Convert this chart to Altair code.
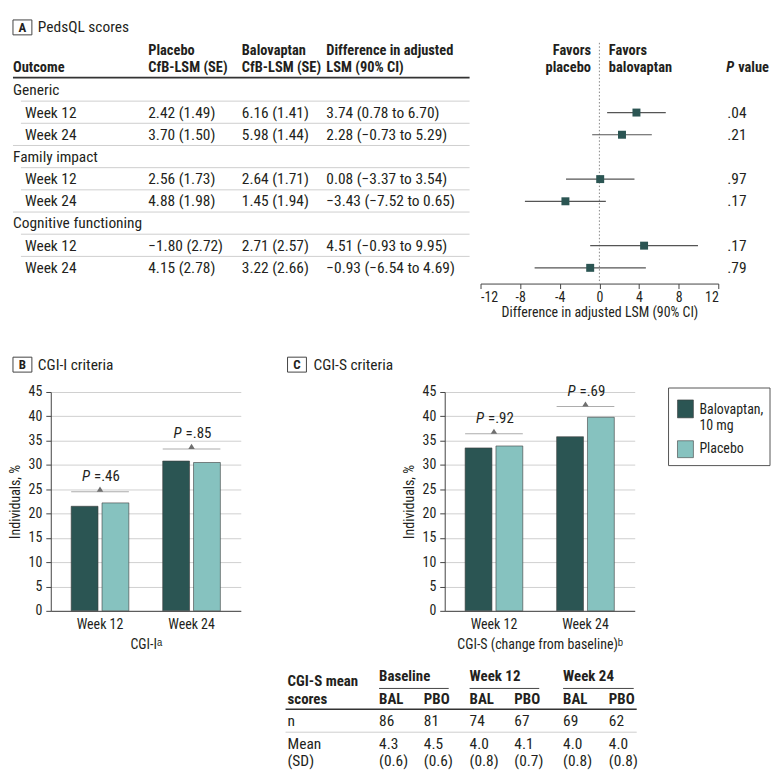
import altair as alt
import pandas as pd

# ---------------- data ----------------
outcomes = ["Generic", "Family impact", "Cognitive functioning"]
weeks = ["Week 12", "Week 24"]
placebo_lsm = [2.42, 3.70, 2.56, 4.88, -1.80, 4.15]
placebo_se = [1.49, 1.50, 1.73, 1.98, 2.72, 2.78]
balovaptan_lsm = [6.16, 5.98, 2.64, 1.45, 2.71, 3.22]
balovaptan_se = [1.41, 1.44, 1.71, 1.94, 2.57, 2.66]
diff_lsm = [3.74, 2.28, 0.08, -3.43, 4.51, -0.93]
diff_lo = [0.78, -0.73, -3.37, -7.52, -0.93, -6.54]
diff_hi = [6.70, 5.29, 3.54, 0.65, 9.95, 4.69]
pedsql_p = [".04", ".21", ".97", ".17", ".17", ".79"]
forest_ticks = [-12, -8, -4, 0, 4, 8, 12]

arms = ["Balovaptan, 10 mg", "Placebo"]
cgi_weeks = ["Week 12", "Week 24"]
cgii_bal = [21.5, 30.8]
cgii_pbo = [22.2, 30.5]
cgii_p = [".46", ".85"]
cgii_bracket = [24.5, 33.3]
cgis_bal = [33.5, 35.8]
cgis_pbo = [33.9, 39.8]
cgis_p = [".92", ".69"]
cgis_bracket = [36.4, 42.0]
y_ticks = [0, 5, 10, 15, 20, 25, 30, 35, 40, 45]

table_groups = ["Baseline", "Week 12", "Week 24"]
table_arms = ["BAL", "PBO"]
cgis_n = [86, 81, 74, 67, 69, 62]
cgis_mean = [4.3, 4.5, 4.0, 4.1, 4.0, 4.0]
cgis_sd = [0.6, 0.6, 0.8, 0.7, 0.8, 0.8]

# ---------------- style ----------------
FONT = "Liberation Sans Narrow, Arial Narrow, Roboto Condensed, Roboto, sans-serif"
INK = "#231f20"
DARK = "#2b5553"
LIGHT = "#86c2bf"
RULE_LIGHT = "#cfcfcf"
MINUS = "\u2212"
BODY = 15.5
HEAD = 14.5


def fmt(v, d=2):
    return f"{v:.{d}f}".replace("-", MINUS)


class Frame:
    """Pixel-like linear scales for annotation/table layers of one panel."""

    def __init__(self, x0, y0, w, h):
        self.xs = alt.Scale(domain=[x0, x0 + w], range=[0, w], nice=False, zero=False)
        self.ys = alt.Scale(domain=[y0, y0 + h], range=[0, h], nice=False, zero=False)

    def _xy(self):
        return dict(x=alt.X("x:Q", scale=self.xs, axis=None),
                    y=alt.Y("y:Q", scale=self.ys, axis=None))

    def text(self, rows, **kw):
        style = dict(font=FONT, fontSize=BODY, color=INK, baseline="middle", align="left")
        style.update(kw)
        df = pd.DataFrame(rows, columns=["x", "y", "t"])
        return alt.Chart(df).mark_text(**style).encode(text=alt.Text("t:N"), **self._xy())

    def hline(self, rows, **kw):
        style = dict(color=INK, strokeWidth=1)
        style.update(kw)
        df = pd.DataFrame(rows, columns=["x", "x2", "y"])
        return alt.Chart(df).mark_rule(**style).encode(x2="x2:Q", **self._xy())

    def rect(self, rows, **kw):
        df = pd.DataFrame(rows, columns=["x", "x2", "y", "y2"])
        return alt.Chart(df).mark_rect(**kw).encode(x2="x2:Q", y2="y2:Q", **self._xy())


# ================= Panel A : PedsQL table + forest plot =================
A_X0, A_W = 47, 725          # plot area starts where panel B's does (keeps concat aligned)
FA = Frame(A_X0, 8, A_W, 275)


def row_y(i):
    return 88.8 + 22.3 * i


a_layers = [
    FA.rect([(8, 771, 8, 340)], opacity=0),
    FA.rect([(9, 28, 18, 33)], fill="white", stroke="#444", strokeWidth=1),
    FA.text([(18.5, 25.8, "A")], fontWeight="bold", align="center", fontSize=13),
    FA.text([(34, 25.5, "PedsQL scores")]),
    FA.text([(9, 66, "Outcome"), (145, 49, "Placebo"), (145, 66, "CfB-LSM (SE)"),
             (239, 49, "Balovaptan"), (239, 66, "CfB-LSM (SE)"),
             (324, 49, "Difference in adjusted"), (324, 66, "LSM (90% CI)"),
             (608, 49, "Favors"), (608, 66, "balovaptan")],
            fontWeight="bold", fontSize=HEAD),
    FA.text([(590, 49, "Favors"), (590, 66, "placebo")], fontWeight="bold", align="right", fontSize=HEAD),
    FA.text([(734, 66, "P")], fontWeight="bold", fontStyle="italic", align="right", fontSize=HEAD),
    FA.text([(734, 66, "value")], fontWeight="bold", dx=4, fontSize=HEAD),
    FA.hline([(9, 468, 76)], strokeWidth=1.6, color="#333"),
]

sep_rows = []
for r in range(8):
    sep_rows.append((9 if r in (2, 5) else 17, 468, row_y(r) + 10.8))
a_layers.append(FA.hline(sep_rows, color=RULE_LIGHT))

cat_rows, week_rows, val_rows, p_rows, forest_rows = [], [], [], [], []
for c, name in enumerate(outcomes):
    cat_rows.append((9, row_y(3 * c), name))
    for w, wk in enumerate(weeks):
        k = 2 * c + w
        yy = row_y(3 * c + 1 + w)
        week_rows.append((21, yy, wk))
        val_rows.append((145, yy, f"{fmt(placebo_lsm[k])} ({fmt(placebo_se[k])})"))
        val_rows.append((239, yy, f"{fmt(balovaptan_lsm[k])} ({fmt(balovaptan_se[k])})"))
        val_rows.append((324, yy, f"{fmt(diff_lsm[k])} ({fmt(diff_lo[k])} to {fmt(diff_hi[k])})"))
        p_rows.append((727, yy, pedsql_p[k]))
        forest_rows.append(dict(est=diff_lsm[k], lo=diff_lo[k], hi=diff_hi[k], y=yy))
a_layers += [FA.text(cat_rows), FA.text(week_rows), FA.text(val_rows), FA.text(p_rows)]

fx = alt.Scale(domain=[-12, 12], range=[479 - A_X0, 718 - A_X0], nice=False, zero=False)
forest_axis = alt.Axis(values=forest_ticks, title="Difference in adjusted LSM (90% CI)",
                       grid=False, orient="bottom", labelExpr="'' + datum.value",
                       tickSize=5, labelPadding=2, titlePadding=1)
df_forest = pd.DataFrame(forest_rows)
zero_line = alt.Chart(pd.DataFrame({"zero": [0]})).mark_rule(
    strokeDash=[1.5, 2], color="#888", strokeWidth=1
).encode(x=alt.X("zero:Q", scale=fx, axis=forest_axis), y=alt.value(33), y2=alt.value(275))
ci = alt.Chart(df_forest).mark_rule(color="#555", strokeWidth=1.2).encode(
    x=alt.X("lo:Q", scale=fx, axis=forest_axis), x2="hi:Q",
    y=alt.Y("y:Q", scale=FA.ys, axis=None))
squares = alt.Chart(df_forest).mark_square(size=64, color=DARK, opacity=1).encode(
    x=alt.X("est:Q", scale=fx, axis=forest_axis),
    y=alt.Y("y:Q", scale=FA.ys, axis=None))

chartA = alt.layer(alt.layer(*a_layers), alt.layer(zero_line, ci, squares)).resolve_scale(
    x="independent").properties(width=A_W, height=275)

# ================= Bar panels =================
cscale = alt.Scale(domain=arms, range=[DARK, LIGHT])
yscale = alt.Scale(domain=[0, 45], nice=False)
xscale = alt.Scale(domain=cgi_weeks, paddingInner=0.37, paddingOuter=0.223)
y_axis = alt.Axis(values=y_ticks, title="Individuals, %", grid=True, tickSize=5,
                  labelPadding=4, titlePadding=6)


def bar_group(bal, pbo, pvals, brackets, xtitle):
    x_axis = alt.Axis(title=xtitle, labelAngle=0, ticks=False, tickSize=0, labelPadding=7,
                      titlePadding=6, grid=False)
    df = pd.DataFrame({"week": cgi_weeks * 2,
                       "arm": [arms[0]] * 2 + [arms[1]] * 2,
                       "pct": bal + pbo})
    dfb = pd.DataFrame({"week": cgi_weeks, "bracket": brackets,
                        "lab": ["=" + p for p in pvals]})
    X = alt.X("week:N", scale=xscale, axis=x_axis)
    Y = alt.Y("bracket:Q", scale=yscale, axis=y_axis)
    bars = alt.Chart(df).mark_bar(stroke="#3d3d3d", strokeWidth=0.6).encode(
        x=X,
        xOffset=alt.XOffset("arm:N", scale=alt.Scale(domain=arms, paddingInner=0.13, paddingOuter=0)),
        y=alt.Y("pct:Q", scale=yscale, axis=y_axis),
        color=alt.Color("arm:N", scale=cscale, legend=None))
    tick = alt.Chart(dfb).mark_tick(orient="horizontal", size=58, thickness=1, color="#8a8a8a").encode(x=X, y=Y)
    tri = alt.Chart(dfb).mark_point(shape="M-1,0L1,0L0,-1.6Z", size=42, filled=True,
                                     color="#6f6f6f", opacity=1).encode(x=X, y=Y)
    p1 = alt.Chart(dfb).mark_text(text="P", font=FONT, fontSize=15, fontStyle="italic", color=INK,
                                  align="right", baseline="middle", dx=-10, dy=-15.5).encode(x=X, y=Y)
    p2 = alt.Chart(dfb).mark_text(font=FONT, fontSize=15, color=INK, align="left",
                                  baseline="middle", dx=-6, dy=-15.5).encode(x=X, y=Y, text="lab:N")
    return alt.layer(bars, tick, tri, p1, p2)


# Panel B
FB = Frame(47, 392, 191, 220)
b_layers = [
    FB.rect([(8, 270, 340, 766)], opacity=0),
    FB.rect([(9, 28, 357, 372)], fill="white", stroke="#444", strokeWidth=1),
    FB.text([(18.5, 365, "B")], fontWeight="bold", align="center", fontSize=13),
    FB.text([(34, 364.5, "CGI-I criteria")]),
]
chartB = alt.layer(bar_group(cgii_bal, cgii_pbo, cgii_p, cgii_bracket, "CGI-I\u1d43"),
                   alt.layer(*b_layers)).resolve_scale(
    x="independent", y="independent").properties(width=191, height=220)

# Panel C (+ legend + CGI-S table)
FC = Frame(443, 392, 191, 220)
col_x = [377, 422, 468, 513, 562, 608]
grp_x = [(377, 447), (468, 538), (562, 633)]
c_layers = [
    FC.rect([(270, 771, 340, 766)], opacity=0),
    FC.rect([(285, 304, 357, 372)], fill="white", stroke="#444", strokeWidth=1),
    FC.text([(294.5, 365, "C")], fontWeight="bold", align="center", fontSize=13),
    FC.text([(311, 364.5, "CGI-S criteria")]),
    # legend
    FC.rect([(668, 770, 388, 466)], fill="white", stroke="#555", strokeWidth=1),
    alt.Chart(pd.DataFrame({"arm": arms, "x": [677, 677], "x2": [693, 693],
                            "y": [400, 441], "y2": [418, 458]})).mark_rect(
        stroke="#3d3d3d", strokeWidth=0.6).encode(
        x=alt.X("x:Q", scale=FC.xs, axis=None), x2="x2:Q",
        y=alt.Y("y:Q", scale=FC.ys, axis=None), y2="y2:Q",
        color=alt.Color("arm:N", scale=cscale, legend=None)),
    FC.text([(699, 410, "Balovaptan,"), (699, 426, "10 mg"), (699, 449.5, "Placebo")], fontSize=14),
    # table
    FC.text([(285, 683, "CGI-S mean"), (285, 701, "scores")]
            + [(gx[0], 678, g) for gx, g in zip(grp_x, table_groups)]
            + [(x, 701, table_arms[i % 2]) for i, x in enumerate(col_x)], fontWeight="bold", fontSize=15),
    FC.hline([(a, b, 690) for a, b in grp_x], color="#444"),
    FC.hline([(283, 636, 711)], strokeWidth=1.6, color="#333"),
    FC.hline([(283, 636, 734)], color=RULE_LIGHT),
    FC.text([(285, 723, "n"), (285, 746, "Mean"), (285, 763, "(SD)")]
            + [(x, 723, str(v)) for x, v in zip(col_x, cgis_n)]
            + [(x, 746, fmt(v, 1)) for x, v in zip(col_x, cgis_mean)]
            + [(x, 763, f"({fmt(v, 1)})") for x, v in zip(col_x, cgis_sd)]),
]
chartC = alt.layer(bar_group(cgis_bal, cgis_pbo, cgis_p, cgis_bracket,
                             "CGI-S (change from baseline)\u1d47"),
                   alt.layer(*c_layers)).resolve_scale(
    x="independent", y="independent").properties(width=191, height=220)

chart = alt.vconcat(
    chartA, alt.hconcat(chartB, chartC, spacing=0), spacing=0
).properties(padding=0).configure(font=FONT).configure_view(stroke=None).configure_axis(
    labelFont=FONT, titleFont=FONT, labelFontSize=14, titleFontSize=14,
    labelColor=INK, titleColor=INK, titleFontWeight="normal",
    domainColor="#444", tickColor="#444", gridColor="#d0d0d0")

chart.save("out.html", embed_options={"renderer": "svg", "actions": False})
